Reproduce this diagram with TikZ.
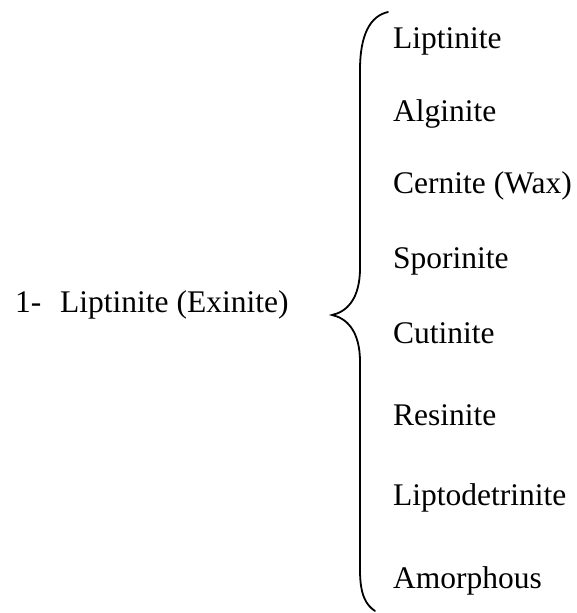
\documentclass[tikz,border=0pt]{standalone}
\usepackage{fontspec}
\setmainfont{Liberation Serif}
\begin{document}
\begin{tikzpicture}[x=1pt,y=-1pt,
  item/.style={anchor=base west,inner sep=0pt,font=\fontsize{31.5}{38}\selectfont},
  bracestroke/.style={line width=1.8pt,line cap=round}]
\useasboundingbox (0,0) rectangle (577,613);
\node[item] (num) at (15,312) {1-};
\node[item] (main) at (60,312) {Liptinite (Exinite)};
\node[item] (i1) at (393,48) {Liptinite};
\node[item] (i2) at (393,121) {Alginite};
\node[item] (i3) at (393,193) {Cernite (Wax)};
\node[item] (i4) at (393,268) {Sporinite};
\node[item] (i5) at (393,343) {Cutinite};
\node[item] (i6) at (393,425) {Resinite};
\node[item] (i7) at (393,505) {Liptodetrinite};
\node[item] (i8) at (393,588) {Amorphous};
\draw[bracestroke] (388,12) .. controls (370,16) and (360,35) .. (360,70)
  -- (360,268) .. controls (360,300) and (346,312) .. (332,315)
  .. controls (346,318) and (360,330) .. (360,362)
  -- (360,570) .. controls (360,595) and (366,605) .. (375,611);
\end{tikzpicture}
\end{document}
